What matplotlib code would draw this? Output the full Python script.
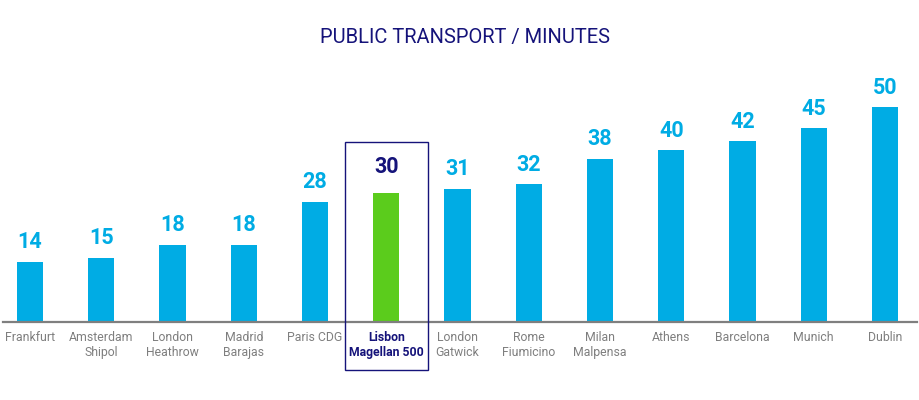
import matplotlib.pyplot as plt
from matplotlib.patches import Rectangle

airports = ["Frankfurt", "Amsterdam\nShipol", "London\nHeathrow", "Madrid\nBarajas",
            "Paris CDG", "Lisbon\nMagellan 500", "London\nGatwick", "Rome\nFiumicino",
            "Milan\nMalpensa", "Athens", "Barcelona", "Munich", "Dublin"]
minutes = [14, 15, 18, 18, 28, 30, 31, 32, 38, 40, 42, 45, 50]
highlight = 5

blue = "#00ace4"
green = "#5bcc1c"
navy = "#15137a"
gray = "#7f7f7f"

plt.rcParams['font.family'] = ['Roboto', 'DejaVu Sans']

fig = plt.figure(figsize=(9.2, 4.0), dpi=100)
ax = fig.add_axes([0, 0, 1, 1])
ax.set_xlim(-30 / 71.25, 890 / 71.25)
ax.set_ylim(-78 / 4.3, 322 / 4.3)
ax.axis("off")

x = list(range(len(airports)))
colors = [green if i == highlight else blue for i in x]
ax.bar(x, minutes, width=0.37, color=colors, zorder=2)
ax.axhline(0, xmin=3 / 920, xmax=917 / 920, color=gray, lw=1.6, zorder=3)

for i, (name, v) in enumerate(zip(airports, minutes)):
    hl = i == highlight
    ax.annotate(str(v), (i, v), xytext=(0, 11 if hl else 6), textcoords="offset points",
                ha="center", va="bottom", fontsize=15.5, fontweight="bold",
                color=navy if hl else blue)
    ax.text(i, -2.2, name, ha="center", va="top", fontsize=8.8,
            color=navy if hl else gray, fontweight="bold" if hl else "normal",
            linespacing=1.2)

# frame around the highlighted airport
v = minutes[highlight]
ax.add_patch(Rectangle((highlight - 0.58, -11.2), 1.16, v + 11.9 + 11.2,
                       fill=False, edgecolor=navy, lw=1.0, zorder=4))

fig.text(0.505, 0.905, "PUBLIC TRANSPORT / MINUTES", ha="center", va="center",
         fontsize=14.5, color=navy)

fig.savefig("out.png", dpi=100)
